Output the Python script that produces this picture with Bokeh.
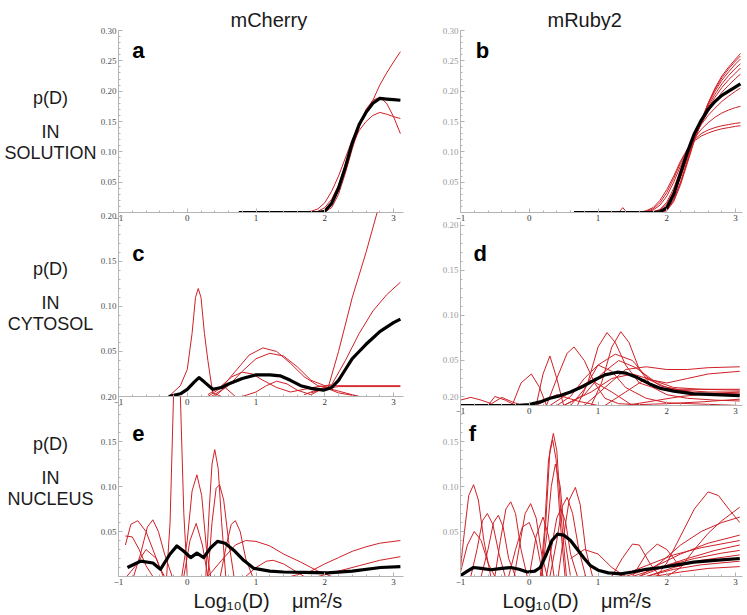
from bokeh.plotting import figure
from bokeh.layouts import row, column
from bokeh.models import FixedTicker, PrintfTickFormatter, Label, Range1d, Title
from bokeh.core.properties import value
from bokeh.embed import file_html
from bokeh.resources import INLINE

# ---------------- data ----------------
COL_TITLES = ["mCherry", "mRuby2"]
COL_TITLE_X = [230, 547]                       # page pixels (left edge of header text)
ROW_TEXTS = ["p(D)", "IN", "SOLUTION", "p(D)", "IN", "CYTOSOL", "p(D)", "IN", "NUCLEUS"]
ROW_TEXT_Y = [97, 131, 152, 268, 302, 323, 443, 477, 498]   # page pixels (label column)
PANEL_LETTERS = ["a", "b", "c", "d", "e", "f"]
X_TICKS = [-1, 0, 1, 2, 3]
Y_TICKS_SOL = [0.05, 0.10, 0.15, 0.20, 0.25, 0.30]
Y_TICKS_CELL = [0.05, 0.10, 0.15, 0.20]
X_TITLE = "Log\u2081\u2080(D)\u00a0\u00a0\u00a0\u00a0\u03bcm\u00b2/s"

# panel a : mCherry in solution
A_X = [0.75, 1.5, 1.8, 1.9, 2.0, 2.1, 2.2, 2.3, 2.4, 2.5, 2.6, 2.7, 2.8, 2.9, 3.0, 3.1]
A_MEAN = [0, 0, 0, 0, 0.002, 0.015, 0.04, 0.075, 0.115, 0.145, 0.165, 0.18, 0.188, 0.187, 0.186, 0.185]
A_RED = [
    [0, 0, 0.002, 0.006, 0.016, 0.035, 0.06, 0.09, 0.12, 0.145, 0.165, 0.185, 0.21, 0.23, 0.248, 0.265],
    [0, 0, 0, 0, 0.001, 0.008, 0.03, 0.065, 0.105, 0.14, 0.17, 0.185, 0.19, 0.18, 0.158, 0.13],
    [0, 0, 0, 0.002, 0.008, 0.022, 0.045, 0.078, 0.112, 0.135, 0.15, 0.16, 0.165, 0.162, 0.158, 0.155],
]

# panel b : mRuby2 in solution
B_X = [0.65, 1.6, 1.7, 1.8, 1.9, 2.0, 2.1, 2.2, 2.3, 2.4, 2.5, 2.6, 2.7, 2.8, 2.9, 3.0, 3.07]
B_MEAN = [0, 0, 0, 0, 0.001, 0.008, 0.03, 0.065, 0.1, 0.13, 0.152, 0.17, 0.183, 0.193, 0.2, 0.207, 0.212]
B_RED = [
    [0, 0, 0, 0, 0, 0.004, 0.02, 0.05, 0.085, 0.12, 0.15, 0.18, 0.205, 0.225, 0.24, 0.253, 0.262],
    [0, 0, 0, 0, 0.001, 0.008, 0.028, 0.058, 0.09, 0.122, 0.152, 0.18, 0.203, 0.222, 0.237, 0.25, 0.258],
    [0, 0, 0, 0, 0, 0.003, 0.018, 0.046, 0.082, 0.118, 0.15, 0.178, 0.2, 0.218, 0.232, 0.245, 0.253],
    [0, 0, 0, 0, 0.002, 0.01, 0.03, 0.06, 0.092, 0.122, 0.15, 0.175, 0.195, 0.212, 0.226, 0.238, 0.245],
    [0, 0, 0, 0, 0, 0.005, 0.022, 0.05, 0.085, 0.12, 0.148, 0.172, 0.19, 0.206, 0.219, 0.23, 0.238],
    [0, 0, 0, 0.001, 0.004, 0.014, 0.035, 0.064, 0.095, 0.122, 0.146, 0.166, 0.183, 0.198, 0.21, 0.221, 0.228],
    [0, 0, 0, 0.001, 0.005, 0.017, 0.04, 0.07, 0.1, 0.125, 0.145, 0.16, 0.172, 0.183, 0.192, 0.2, 0.205],
    [0, 0, 0.001, 0.004, 0.012, 0.027, 0.05, 0.077, 0.102, 0.122, 0.137, 0.148, 0.157, 0.164, 0.169, 0.173, 0.175],
    [0, 0, 0.002, 0.006, 0.016, 0.033, 0.056, 0.082, 0.104, 0.12, 0.13, 0.136, 0.14, 0.143, 0.145, 0.147, 0.148],
    [0, 0, 0.003, 0.008, 0.02, 0.038, 0.06, 0.085, 0.105, 0.118, 0.126, 0.131, 0.135, 0.138, 0.14, 0.142, 0.143],
]
B_SPIKE_X = [0.65, 1.3, 1.36, 1.42, 1.6]
B_SPIKE_Y = [0, 0, 0.008, 0, 0]

# panel c : mCherry in cytosol
C_MEAN_X = [-0.27, -0.1, 0.0, 0.1, 0.17, 0.25, 0.37, 0.5, 0.6, 0.8, 1.0, 1.2, 1.35, 1.5, 1.65, 1.8, 1.98,
            2.1, 2.2, 2.3, 2.4, 2.5, 2.6, 2.7, 2.8, 2.9, 3.0, 3.1]
C_MEAN_Y = [0, 0.003, 0.008, 0.016, 0.021, 0.016, 0.008, 0.01, 0.014, 0.02, 0.024, 0.024, 0.023, 0.018, 0.012,
            0.009, 0.007, 0.01, 0.018, 0.03, 0.042, 0.05, 0.058, 0.065, 0.072, 0.077, 0.082, 0.086]
C_RED_X = [
    [-0.27, -0.1, 0.0, 0.07, 0.12, 0.16, 0.2, 0.25, 0.3, 0.37, 0.5],
    [0.3, 0.5, 0.7, 0.9, 1.1, 1.3, 1.5, 1.7, 1.9, 2.05, 2.2, 2.4, 2.6, 2.8],
    [0.35, 0.6, 0.8, 1.0, 1.2, 1.4, 1.6, 1.8, 2.0, 2.1, 2.3, 2.5, 2.7, 2.9, 3.1],
    [0.3, 0.5, 0.65, 0.8, 0.95, 1.1, 1.3, 1.5, 1.7, 1.9, 2.1, 2.5, 3.1],
    [0.8, 1.0, 1.15, 1.3, 1.45, 1.6, 1.8, 2.0, 2.2, 2.5],
    [0.4, 0.55, 0.7, 1.0],
    [1.8, 2.0, 2.2, 2.6, 3.1],
    [1.7, 1.9, 2.0, 2.2, 2.5],
]
C_RED_Y = [
    [0, 0.012, 0.03, 0.07, 0.11, 0.12, 0.11, 0.07, 0.04, 0.004, 0],
    [0, 0.01, 0.028, 0.046, 0.054, 0.05, 0.037, 0.022, 0.012, 0.01, 0.05, 0.11, 0.16, 0.215],
    [0, 0.012, 0.028, 0.042, 0.048, 0.045, 0.033, 0.018, 0.012, 0.013, 0.04, 0.07, 0.095, 0.113, 0.127],
    [0.002, 0.012, 0.022, 0.027, 0.025, 0.018, 0.01, 0.005, 0.008, 0.011, 0.012, 0.012, 0.012],
    [0, 0.005, 0.012, 0.017, 0.014, 0.007, 0.002, 0.01, 0.006, 0],
    [0, 0.01, 0, 0],
    [0.004, 0.009, 0.011, 0.011, 0.011],
    [0.002, 0.008, 0.01, 0.004, 0],
]

# panel d : mRuby2 in cytosol
D_MEAN_X = [-1, -0.2, 0.0, 0.16, 0.3, 0.45, 0.6, 0.8, 0.94, 1.1, 1.28, 1.4, 1.57, 1.75, 1.91, 2.1, 2.39, 2.7, 3.06]
D_MEAN_Y = [0, 0, 0.001, 0.004, 0.008, 0.011, 0.015, 0.022, 0.028, 0.034, 0.037, 0.036, 0.031, 0.024, 0.019,
            0.016, 0.013, 0.012, 0.011]
D_RED_X = [
    [0.9, 1.05, 1.2, 1.33, 1.45, 1.6, 1.8, 2.0, 2.3, 2.7, 3.06],
    [0.7, 0.85, 1.0, 1.13, 1.25, 1.4, 1.6, 1.8, 2.1, 2.5, 3.06],
    [0.25, 0.4, 0.55, 0.65, 0.8, 0.95, 1.1, 1.3, 1.6, 2.0, 2.5, 3.06],
    [0.6, 0.8, 1.0, 1.25, 1.5, 1.7, 1.9, 2.2, 2.6, 3.06],
    [0.1, 0.2, 0.3, 0.4, 0.5],
    [-0.25, -0.12, 0.03, 0.15, 0.25],
    [0.8, 1.1, 1.4, 1.7, 2.0, 2.3, 2.6, 3.06],
    [0.5, 0.9, 1.2, 1.5, 1.8, 2.0, 2.3, 2.6, 3.06],
    [0.5, 0.8, 1.05, 1.3, 1.55, 1.8, 2.1, 2.5, 3.06],
    [0.4, 0.6, 0.8, 1.0, 1.2, 1.4, 1.7, 2.0, 3.06],
    [0.3, 0.6, 0.9, 1.2, 1.5],
    [-1, -0.85, -0.7, -0.55, -0.4, -0.25, -0.1],
    [-1, -0.6, -0.5, -0.35, -0.2, -0.05],
    [1.1, 1.4, 1.7, 2.0, 2.4, 3.06],
    [1.4, 1.8, 2.2, 2.6, 3.06],
    [0.1, 0.4, 0.7, 1.0],
]
D_RED_Y = [
    [0, 0.025, 0.065, 0.082, 0.07, 0.04, 0.02, 0.012, 0.008, 0.006, 0.005],
    [0, 0.025, 0.065, 0.081, 0.07, 0.045, 0.025, 0.02, 0.018, 0.018, 0.018],
    [0, 0.03, 0.058, 0.065, 0.05, 0.025, 0.008, 0.002, 0.001, 0.002, 0.004, 0.007],
    [0, 0.018, 0.045, 0.057, 0.05, 0.032, 0.022, 0.017, 0.015, 0.015],
    [0, 0.035, 0.055, 0.03, 0],
    [0, 0.025, 0.035, 0.02, 0],
    [0, 0.02, 0.04, 0.043, 0.04, 0.04, 0.042, 0.043],
    [0, 0.015, 0.03, 0.035, 0.028, 0.025, 0.03, 0.035, 0.038],
    [0, 0.012, 0.035, 0.05, 0.042, 0.028, 0.02, 0.018, 0.017],
    [0, 0.01, 0.03, 0.045, 0.038, 0.02, 0.008, 0.003, 0.0],
    [0, 0.015, 0.028, 0.015, 0],
    [0.006, 0.009, 0.006, 0.002, 0.009, 0.004, 0],
    [0, 0, 0.01, 0.006, 0, 0],
    [0, 0.015, 0.03, 0.02, 0.014, 0.013],
    [0, 0.005, 0.01, 0.013, 0.015],
    [0, 0.012, 0.005, 0],
]

# panel e : mCherry in nucleus
E_MEAN_X = [-0.87, -0.68, -0.5, -0.39, -0.25, -0.15, -0.05, 0.05, 0.14, 0.24, 0.34, 0.44, 0.55, 0.68, 0.82,
            0.97, 1.2, 1.4, 1.7, 2.04, 2.4, 2.81, 3.1]
E_MEAN_Y = [0.010, 0.017, 0.015, 0.008, 0.025, 0.034, 0.028, 0.021, 0.026, 0.021, 0.032, 0.039, 0.037, 0.029,
            0.018, 0.009, 0.006, 0.005, 0.0045, 0.004, 0.006, 0.010, 0.011]
E_RED_X = [
    [-0.3, -0.25, -0.2, -0.15, -0.1, -0.05, 0.0],
    [-0.08, 0.0, 0.07, 0.14, 0.21, 0.28, 0.34],
    [-0.05, 0.04, 0.13, 0.22, 0.3],
    [0.27, 0.32, 0.36, 0.4, 0.45, 0.5, 0.56],
    [0.3, 0.36, 0.42, 0.47, 0.53, 0.6, 0.68],
    [0.48, 0.57, 0.64, 0.7, 0.77, 0.85, 0.95],
    [-0.9, -0.82, -0.72, -0.6, -0.5, -0.4, -0.33],
    [-0.78, -0.68, -0.58, -0.5, -0.42, -0.33, -0.22],
    [-0.9, -0.8, -0.7, -0.6, -0.5],
    [0.3, 0.5, 0.7, 0.85, 1.0, 1.2, 1.4, 1.65, 1.9, 2.1],
    [0.85, 1.0, 1.15, 1.25, 1.4, 1.55, 1.7],
    [1.5, 1.8, 2.0, 2.2, 2.4, 2.6, 2.8, 3.1],
    [1.9, 2.2, 2.5, 2.8, 3.1],
    [-0.88, -0.75, -0.6, -0.45, -0.35],
]
E_RED_Y = [
    [0, 0.06, 0.2, 0.26, 0.2, 0.07, 0],
    [0, 0.04, 0.095, 0.113, 0.09, 0.03, 0],
    [0, 0.04, 0.059, 0.035, 0],
    [0, 0.075, 0.125, 0.141, 0.12, 0.06, 0],
    [0, 0.06, 0.098, 0.102, 0.085, 0.04, 0],
    [0, 0.035, 0.058, 0.062, 0.05, 0.02, 0],
    [0.035, 0.058, 0.062, 0.05, 0.03, 0.01, 0],
    [0, 0.025, 0.055, 0.063, 0.05, 0.025, 0],
    [0.045, 0.044, 0.03, 0.012, 0],
    [0, 0.018, 0.035, 0.04, 0.039, 0.034, 0.025, 0.016, 0.006, 0],
    [0, 0.01, 0.017, 0.018, 0.014, 0.007, 0],
    [0, 0.006, 0.014, 0.021, 0.028, 0.033, 0.037, 0.04],
    [0, 0.006, 0.012, 0.018, 0.022],
    [0, 0.012, 0.03, 0.02, 0],
]

# panel f : mRuby2 in nucleus
F_MEAN_X = [-1, -0.9, -0.81, -0.7, -0.56, -0.4, -0.27, -0.15, -0.03, 0.08, 0.16, 0.25, 0.33, 0.41, 0.5, 0.6,
            0.7, 0.8, 0.89, 1.0, 1.15, 1.33, 1.5, 1.7, 1.91, 2.15, 2.39, 2.7, 3.06]
F_MEAN_Y = [0.001, 0.006, 0.010, 0.009, 0.0075, 0.009, 0.010, 0.008, 0.005, 0.006, 0.010, 0.025, 0.04, 0.047,
            0.046, 0.040, 0.03, 0.02, 0.012, 0.007, 0.004, 0.003, 0.005, 0.008, 0.010, 0.013, 0.016, 0.018, 0.020]
F_RED_X = [
    [0.18, 0.24, 0.3, 0.35, 0.4, 0.46, 0.54],
    [0.16, 0.22, 0.28, 0.34, 0.39, 0.45, 0.52],
    [0.18, 0.26, 0.32, 0.38, 0.45, 0.52, 0.6],
    [-1, -0.95, -0.88, -0.81, -0.74, -0.66, -0.56],
    [0.42, 0.5, 0.58, 0.67, 0.74, 0.82, 0.92],
    [0.3, 0.4, 0.48, 0.55, 0.63, 0.72, 0.82],
    [-0.5, -0.42, -0.34, -0.27, -0.2, -0.12, -0.03],
    [-0.22, -0.14, -0.06, 0.02, 0.1, 0.18, 0.26],
    [-0.85, -0.76, -0.68, -0.61, -0.53, -0.44, -0.35],
    [-0.7, -0.6, -0.52, -0.45, -0.38, -0.3, -0.2],
    [0.25, 0.33, 0.4, 0.46, 0.53, 0.6, 0.7],
    [-1, -0.9, -0.8, -0.7, -0.6, -0.5],
    [-0.3, -0.2, -0.1, 0.0, 0.1, 0.2],
    [0.0, 0.1, 0.2, 0.28, 0.36],
    [1.85, 2.0, 2.2, 2.4, 2.6, 2.75, 2.9, 3.06],
    [2.0, 2.2, 2.4, 2.6, 2.8, 3.06],
    [1.6, 1.9, 2.2, 2.5, 2.8, 3.06],
    [1.2, 1.35, 1.5, 1.6, 1.75, 1.9],
    [1.4, 1.8, 2.2, 2.6, 3.06],
    [1.3, 1.7, 2.1, 2.5, 3.06],
    [1.5, 1.9, 2.3, 2.7, 3.06],
    [1.6, 2.0, 2.4, 2.8, 3.06],
    [1.7, 2.1, 2.5, 3.06],
    [1.7, 2.1, 2.5, 3.06],
    [1.8, 2.2, 2.6, 3.06],
    [0.6, 0.8, 1.0, 1.2, 1.4],
    [1.5, 1.7, 1.86, 2.0, 2.2],
]
F_RED_Y = [
    [0, 0.06, 0.14, 0.159, 0.14, 0.07, 0],
    [0, 0.05, 0.13, 0.152, 0.13, 0.06, 0],
    [0, 0.05, 0.1, 0.125, 0.1, 0.04, 0],
    [0.01, 0.045, 0.09, 0.102, 0.085, 0.04, 0],
    [0, 0.045, 0.085, 0.099, 0.08, 0.03, 0],
    [0, 0.04, 0.078, 0.088, 0.07, 0.03, 0],
    [0, 0.04, 0.075, 0.083, 0.07, 0.03, 0],
    [0, 0.035, 0.07, 0.081, 0.065, 0.025, 0],
    [0, 0.03, 0.062, 0.07, 0.058, 0.025, 0],
    [0, 0.03, 0.06, 0.068, 0.055, 0.02, 0],
    [0, 0.035, 0.065, 0.075, 0.06, 0.025, 0],
    [0.005, 0.035, 0.05, 0.04, 0.015, 0],
    [0, 0.03, 0.055, 0.06, 0.04, 0],
    [0, 0.045, 0.066, 0.045, 0],
    [0, 0.015, 0.045, 0.075, 0.094, 0.09, 0.075, 0.06],
    [0, 0.01, 0.03, 0.048, 0.062, 0.077],
    [0, 0.015, 0.035, 0.05, 0.06, 0.066],
    [0, 0.02, 0.036, 0.035, 0.015, 0],
    [0, 0.01, 0.025, 0.037, 0.046],
    [0, 0.012, 0.024, 0.032, 0.04],
    [0, 0.01, 0.02, 0.029, 0.035],
    [0, 0.012, 0.02, 0.026, 0.029],
    [0, 0.01, 0.018, 0.024],
    [0, 0.008, 0.013, 0.017],
    [0, 0.005, 0.009, 0.011],
    [0.02, 0.03, 0.025, 0.01, 0],
    [0, 0.025, 0.036, 0.03, 0.01],
]

# ---------------- styling ----------------
RED = "#cf2027"
TEXT_FONT = "Liberation Sans"
TICK_FONT = "Liberation Serif"
AXIS_COLOR = "#b4b4b4"
X_MINOR = [round(-1 + 0.2 * i, 2) for i in range(22)]
Y_MINOR = [round(0.01 * i, 2) for i in range(1, 31)]
LABEL_W = 96
PAGE_W = 745
PAGE_H = 614
HEAD_H = 30


def make_panel(width, height, xr, yr, b_left, b_right, b_top, b_bottom, yticks, label_color, margin_top):
    p = figure(width=width, height=height, x_range=Range1d(*xr), y_range=Range1d(*yr),
               output_backend="svg", toolbar_location=None,
               min_border_left=b_left, min_border_right=b_right,
               min_border_top=b_top, min_border_bottom=b_bottom,
               margin=(margin_top, 0, 0, 0))
    p.xgrid.visible = False
    p.ygrid.visible = False
    p.outline_line_color = None
    p.background_fill_color = None
    p.border_fill_color = None
    p.xaxis.ticker = FixedTicker(ticks=X_TICKS, minor_ticks=X_MINOR)
    p.xaxis.major_label_overrides = {-1: "\u22121"}
    p.yaxis.ticker = FixedTicker(ticks=yticks, minor_ticks=Y_MINOR)
    p.yaxis.formatter = PrintfTickFormatter(format="%.2f")
    for ax in (p.xaxis[0], p.yaxis[0]):
        ax.axis_line_color = AXIS_COLOR
        ax.major_tick_line_color = AXIS_COLOR
        ax.minor_tick_line_color = AXIS_COLOR
        ax.major_tick_in = 4
        ax.major_tick_out = 0
        ax.minor_tick_in = 2
        ax.minor_tick_out = 0
        ax.major_label_standoff = 2
        ax.major_label_text_font = TICK_FONT
        ax.major_label_text_font_size = "9px"
    p.xaxis.major_label_text_color = "#333333"
    p.yaxis.major_label_text_color = label_color
    return p


def draw_shared(p, xs, mean, reds):
    for ys in reds:
        p.line(xs, ys, color=RED, line_width=1, line_join="round")
    p.line(xs, mean, color="black", line_width=3.2, line_join="round")


def draw_sep(p, mx, my, rxs, rys):
    for xs, ys in zip(rxs, rys):
        p.line(xs, ys, color=RED, line_width=1, line_join="round")
    p.line(mx, my, color="black", line_width=3.2, line_join="round")


def letter(p, x, y, t):
    p.add_layout(Label(x=x, y=y, text=t, text_font=TEXT_FONT, text_font_size="22px",
                       text_font_style="bold", text_color="black", text_baseline="alphabetic"))


def x_title(p, offset):
    p.add_layout(Title(text=X_TITLE, align="left", offset=offset, standoff=0, text_font=TEXT_FONT,
                       text_font_size="20px", text_font_style="normal", text_color="#1a1a1a"), "below")


def plain_fig(w, h):
    f = figure(width=w, height=h, x_range=Range1d(0, w), y_range=Range1d(h, 0),
               output_backend="svg", toolbar_location=None, x_axis_type=None, y_axis_type=None,
               min_border=0)
    f.grid.visible = False
    f.outline_line_color = None
    f.background_fill_color = None
    f.border_fill_color = None
    return f


LX = (-1, 3.145)
RX = (-1, 3.10)
LW = 410 - LABEL_W
LB = 118 - LABEL_W

pa = make_panel(LW, 228, LX, (0, 0.30), LB, 7, 30, 16, Y_TICKS_SOL, "#555555", 0)
pc = make_panel(LW, 206, LX, (0, 0.2044), LB, 7, 6, 16, Y_TICKS_CELL, "#555555", -22)
pe = make_panel(LW, 224, LX, (0, 0.20), LB, 7, 6, 38, Y_TICKS_CELL, "#555555", -22)
pb = make_panel(335, 228, RX, (0, 0.30), 50, 3, 30, 16, Y_TICKS_SOL, "#9a9a9a", 0)
pd = make_panel(335, 206, RX, (0, 0.2044), 50, 3, 6, 16, Y_TICKS_CELL, "#9a9a9a", -13)
pf = make_panel(335, 224, RX, (0, 0.20), 50, 3, 6, 38, Y_TICKS_CELL, "#9a9a9a", -31)

draw_shared(pa, A_X, A_MEAN, A_RED)
pb.line(B_SPIKE_X, B_SPIKE_Y, color=RED, line_width=1)
draw_shared(pb, B_X, B_MEAN, B_RED)
draw_sep(pc, C_MEAN_X, C_MEAN_Y, C_RED_X, C_RED_Y)
draw_sep(pd, D_MEAN_X, D_MEAN_Y, D_RED_X, D_RED_Y)
draw_sep(pe, E_MEAN_X, E_MEAN_Y, E_RED_X, E_RED_Y)
draw_sep(pf, F_MEAN_X, F_MEAN_Y, F_RED_X, F_RED_Y)

# panel letters
letter(pa, -0.80, 0.267, PANEL_LETTERS[0])
letter(pb, -0.78, 0.267, PANEL_LETTERS[1])
letter(pc, -0.80, 0.159, PANEL_LETTERS[2])
letter(pd, -0.81, 0.169, PANEL_LETTERS[3])
letter(pe, -0.80, 0.159, PANEL_LETTERS[4])
letter(pf, -0.88, 0.159, PANEL_LETTERS[5])

# x titles
x_title(pe, 75)
x_title(pf, 42)

# header with column titles (overlaps the top border of the panels)
head = plain_fig(PAGE_W, HEAD_H)
head.text(x=COL_TITLE_X, y=[19, 19], text=COL_TITLES, text_align="left", text_baseline="alphabetic",
          text_font=value(TEXT_FONT), text_font_size=value("20px"), text_color="#1a1a1a")

# row label column
plab = plain_fig(LABEL_W, PAGE_H)
plab.text(x=[LABEL_W / 2 + 2] * len(ROW_TEXTS), y=ROW_TEXT_Y, text=ROW_TEXTS,
          text_align="center", text_baseline="middle", text_font=value(TEXT_FONT),
          text_font_size=value("18px"), text_color="#1a1a1a")

left = column(pa, pc, pe, spacing=0)
right = column(pb, pd, pf, spacing=0)
body = row(plab, left, right, spacing=0, margin=(-HEAD_H, 0, 0, 0))
layout = column(head, body, spacing=0)

open("out.html", "w").write(file_html(layout, INLINE))
